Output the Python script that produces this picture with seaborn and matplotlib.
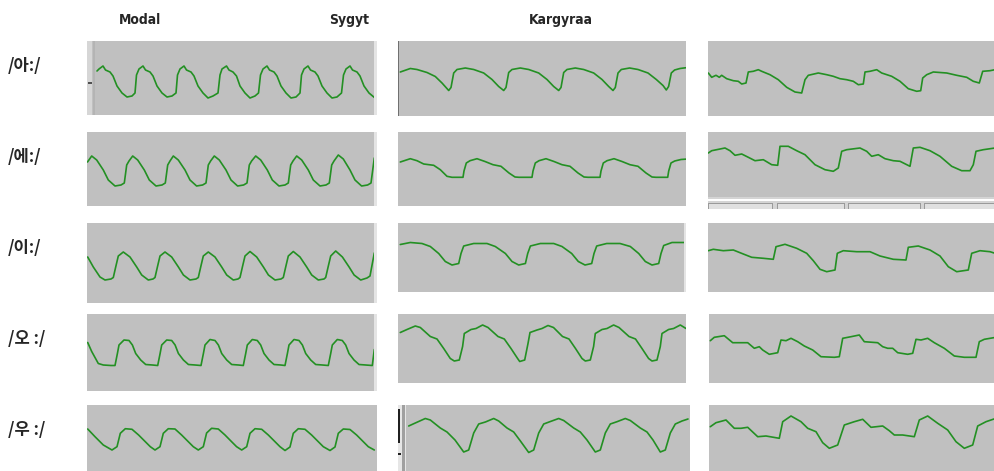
import pandas as pd
import seaborn as sns
from matplotlib import pyplot as plt
from matplotlib.patches import Rectangle

# column / row titles
voice_types = ['Modal', 'Sygyt', 'Kargyraa']
vowel_labels = ['/아:/', '/에:/', '/이:/', '/오 :/', '/우 :/']

# waveforms: (time in px from panel left, amplitude in px above centre)
modal_a = [(10, 7), (12, 9), (16, 12), (18.5, 8), (23, 6), (26, 2), (30, -8), (35, -15), (40, -19), (45, -18), (48, -15),
           (49.5, 3), (52, 9), (56, 12), (58.5, 8), (63, 6), (66, 2), (70, -8), (75, -15), (80, -19), (85, -18), (89, -15),
           (90.5, 3), (93, 9), (97, 12), (99.5, 8), (104, 6), (107, 2), (111, -8), (116, -15), (121, -20), (126, -18), (131, -15),
           (133, 3), (135, 9), (139.5, 12), (142, 8), (146, 6), (149.5, 2), (153, -8), (158, -15), (163, -20), (168, -18), (171.5, -15),
           (173.5, 3), (176, 9), (180, 12), (182.5, 8), (187, 6), (190, 2), (194, -8), (199, -15), (204, -20), (209, -19), (213, -15),
           (214.5, 3), (217, 9), (221, 12), (223.5, 8), (228, 6), (231, 2), (235, -8), (240, -15), (245, -20), (250, -19), (254.5, -15),
           (256.5, 3), (259, 9), (263, 12), (265.5, 8), (270, 6), (273, 2), (277, -8), (282, -15), (288, -20)]
modal_e = [(0.5, 7), (4.7, 13), (9.7, 9), (16.3, -1), (21.3, -11), (28, -17), (34, -16), (37.3, -14), (39.7, 4), (42, 8),
           (45.7, 13), (50.7, 9), (57.3, -1), (62.3, -11), (69, -17), (75, -16), (78.3, -14), (80.7, 4), (83, 8),
           (86.3, 13), (91.3, 9), (98, -1), (103, -11), (109.6, -17), (115.6, -16), (119, -14), (121.3, 4), (123.6, 8),
           (127.3, 13), (132.3, 9), (139, -1), (144, -11), (150.6, -17), (156.6, -16), (160, -14), (162.3, 4), (164.6, 8),
           (168.7, 13), (173.7, 9), (180.3, -1), (185.3, -11), (192, -17), (198, -16), (201.3, -14), (203.7, 4), (206, 8),
           (209.7, 13), (214.7, 9), (221.3, -1), (226.3, -11), (233, -17), (239, -16), (242.3, -14), (244.7, 4), (247, 8),
           (251.3, 14), (256.3, 10), (263, -1), (268, -11), (274.6, -17), (280.6, -16), (284, -14), (287.3, 11)]
modal_i = [(0.7, 6), (6.3, -4), (13, -14), (18, -17), (24, -16),
           (26.3, -14.5), (28.7, -4), (31.3, 7), (36.3, 11), (43, 6), (49.7, -4), (54.7, -12), (61.3, -17), (66, -16),
           (68, -14.5), (70.4, -4), (73, 7), (78, 11), (84.7, 6), (91.4, -4), (96.4, -12), (103, -17), (109, -16),
           (111.3, -14.5), (113.7, -4), (116.3, 7), (121.3, 11), (128, 6), (134.7, -4), (139.7, -12), (146.3, -17), (151, -16),
           (153, -14.5), (155.4, -4), (158, 7), (163, 11.5), (169.7, 6), (176.4, -4), (181.4, -12), (188, -17), (194, -16),
           (196.3, -14.5), (198.7, -4), (201.3, 7), (206.3, 11.5), (213, 6), (219.7, -4), (224.7, -12), (231.3, -17), (237, -16),
           (238.7, -14.5), (241.1, -4), (243.7, 7), (248.7, 12), (255.4, 6), (262.1, -4), (267.1, -12), (273.7, -17), (280, -15),
           (283, -13), (287.3, 10)]
modal_o = [(0.7, 10), (4.7, 1), (11.3, -11), (16.3, -12.5), (24, -13),
           (28, -13), (30.4, -1), (32, 7.5), (37, 12.5), (42, 12), (45.4, 7.5), (48.7, -1), (53.7, -7.5), (58.7, -12), (65.4, -12.5),
           (70.7, -13), (73.1, -1), (74.7, 7.5), (79.7, 12.5), (84.7, 12), (88.1, 7.5), (91.4, -1), (96.4, -7.5), (101.4, -12), (108.1, -12.5),
           (114, -13), (116.4, -1), (118, 7.5), (123, 13), (128, 12), (131.4, 7.5), (134.7, -1), (139.7, -7.5), (144.7, -12), (151.4, -12.5),
           (156.3, -13), (158.7, -1), (160.3, 7.5), (165.3, 13), (170.3, 12), (173.7, 7.5), (177, -1), (182, -7.5), (187, -12), (193.7, -12.5),
           (198, -13), (200.4, -1), (202, 7.5), (207, 13), (212, 12), (215.4, 7.5), (218.7, -1), (223.7, -7.5), (228.7, -12), (235.4, -12.5),
           (241.3, -13), (243.7, -1), (245.3, 7.5), (250.3, 13), (255.3, 12), (258.7, 7.5), (262, -1), (267, -7.5), (272, -12), (278.7, -12.5),
           (285.3, -13), (287.3, 3)]
modal_u = [(0.7, 9), (8, 1.3), (16.3, -7), (25, -12),
           (30, -8.7), (33.3, 4.7), (38.3, 9.3), (45, 8.7), (51.6, 3), (58.3, -3.7), (63.3, -8.7),
           (68, -12), (73, -8.7), (76.3, 4.7), (81.3, 9.3), (88, 9), (94.6, 3), (101.3, -3.7), (106.3, -8.7),
           (111.3, -12), (116.3, -8.7), (119.6, 5), (124.6, 9.7), (131.3, 9), (138, 3), (144.6, -3.7), (149.6, -8.7),
           (154.7, -12), (159.7, -8.7), (163, 4.7), (168, 9.3), (174.7, 8.7), (181.3, 3), (188, -3.7), (193, -8.7),
           (198, -12.5), (203, -9), (206.3, 4.7), (211.3, 9.3), (218, 8.7), (224.6, 3), (231.3, -3.7), (236.3, -8.7),
           (243, -12.5), (248, -9), (251.3, 4.7), (256.3, 9), (263, 8.5), (269.6, 3), (276.3, -3.7), (281.3, -8.7), (287.3, -12)]

sygyt_a = [(2.3, 6.5), (12.3, 10), (19, 9), (29, 6), (37.3, 2), (44, -4.5),
           (50.7, -12), (53, -9), (55.7, 5.5), (59, 9), (67.3, 10.5), (75.7, 9), (85.7, 5.5), (94, -1), (100.7, -8),
           (105.7, -12), (108, -9), (110.7, 6), (114, 9), (122.3, 10.5), (130.7, 9), (140.7, 5.5), (149, -1), (155.7, -8),
           (160.7, -12), (163, -9), (165.7, 6), (169, 9), (177.3, 10.5), (185.7, 9), (195.7, 5.5), (204, -1), (210.7, -8),
           (215, -12), (217.3, -9), (220, 5.5), (223.3, 9), (231.6, 10.5), (240, 9), (250, 5.5), (258.3, -1), (265, -7),
           (268.3, -11.5), (270.6, -8), (273.3, 5.5), (276.6, 8.5), (282, 10), (289.7, 11)]
sygyt_e = [(2.3, 7), (12.3, 10.3), (19, 8.3), (25.7, 5), (35.7, 3.7), (42.3, -0.7), (49, -7.3), (54, -8.3),
           (65, -8.3), (66, -2), (68.3, 6), (72, 8.3), (79, 10.3), (87, 7.5), (95, 4.3), (103, 2.7), (111, -4), (117, -8), (121, -8.3),
           (134, -8.3), (135, -2), (137.3, 6), (141, 8.3), (148, 10.3), (156, 7.5), (164, 4.3), (172, 2.7), (180, -4), (186, -8), (190, -8.3),
           (202, -8.3), (203, -2), (205.3, 6), (209, 8.3), (216, 10.3), (224, 7.5), (232, 4.3), (240, 2.7), (248, -4), (254, -8), (258, -8.3),
           (269.7, -8.3), (270.7, -2), (273, 6), (276.7, 8), (283, 9.5), (289.7, 10)]
sygyt_i = [(2.3, 13), (12.3, 15), (24, 14), (32.3, 11), (40.7, 4), (47.3, -4), (54, -7.5), (60.7, -6), (63, 4), (65.7, 11.5), (75.7, 14), (89, 14),
           (97.3, 11), (107.4, 4), (114, -4), (120.7, -7.5), (127.4, -6), (129.7, 4), (132.4, 11.5), (142.4, 14), (155.7, 14),
           (164, 11), (173.7, 4), (180.3, -4), (187, -7.5), (193.7, -6), (196, 4), (198.7, 11.5), (208.7, 14), (222, 14),
           (232.3, 11), (240.7, 4), (247.3, -4), (254, -7.5), (260.7, -6), (263, 4), (265.7, 12), (274, 15), (288.3, 15)]
sygyt_o = [(2.3, 16), (9, 19), (17.3, 22.5), (22.3, 21), (32.3, 12), (39, 9.5), (45.7, 0), (52.3, -10),
           (56.3, -12.5), (61.3, -11.5), (64.6, 2), (66.3, 15), (73, 19), (78, 20), (84.6, 23.5), (90, 21), (100, 12), (106.3, 9.5), (113, 0), (119.6, -10),
           (121.7, -13), (126.7, -11.5), (130, 5), (132, 16), (139, 18.5), (144, 20), (150, 23), (155.5, 21), (164.5, 12), (171, 9.5), (177.5, 0), (184, -10),
           (187.3, -12.5), (192.3, -11.5), (195.6, 2), (197.3, 15), (204, 19), (209, 20), (215.6, 23.5), (221, 21), (231, 12), (237.5, 9.5), (244, 0), (250.6, -10),
           (254, -12.5), (259, -11.5), (262.3, 2), (264, 15), (270.6, 19), (275.6, 20), (282.3, 23.5), (288, 20)]
sygyt_u = [(10.7, 12), (17.3, 15), (27.3, 19.5), (32.3, 18), (42.3, 10), (49, 6), (57, -2),
           (65.7, -14), (70.7, -12), (75.7, 5), (80.7, 14), (87.4, 16), (95.7, 19.5), (100.7, 17), (109, 10), (115.7, 6), (122.4, -3),
           (130.7, -14.5), (135.7, -12), (140.7, 5), (145.7, 14), (152.4, 16.5), (160.7, 19.5), (165.7, 17.5), (175.7, 10), (182.3, 6), (189, -2),
           (197.3, -14), (202.3, -12), (207.3, 5), (212.3, 14), (219, 16.3), (227.3, 19.5), (232.3, 17.5), (242.3, 10), (249, 6), (255, -2),
           (262.3, -14), (267.3, -12), (272.3, 5), (277.3, 14), (284, 17), (290, 19)]

kargyraa_a = [(0.3, 5.5), (3.7, 1.2), (8, 3.2), (11.3, 1.2), (13.7, 3.2), (18.7, -0.2), (25.3, -2.2), (30.3, -2.8), (33.7, -5.5), (38, -4.5),
              (40.3, 6.5), (45.3, 7.2), (50.3, 8.8), (53.7, 7.2), (62, 3.8), (70.3, -1.2), (78.7, -8.8), (87, -13.5), (93.7, -14.5),
              (97, -1.2), (100.3, 3.2), (110.3, 5.5), (118.7, 3.8), (125.3, 2.2), (132, -0.2), (138.7, -1.2), (145.3, -2.8), (150.3, -6.2), (155.3, -5.5),
              (157, 6.5), (162, 7.2), (168.7, 8.8), (173.7, 5.5), (183.7, 2.2), (192, -2.8), (200.3, -10.2), (208.7, -12.8), (212.7, -12.2),
              (214.7, 0.5), (218.7, 3.8), (225.3, 6.5), (238.7, 5.5), (248.7, 3.2), (258.7, 1.2), (265.3, -2.8), (271.3, -4.5),
              (274.7, 7.2), (282, 7.8), (287, 8.8)]
kargyraa_e = [(0.3, 11.5), (3.7, 13.8), (17, 16.5), (22, 13.8), (27, 9.2), (33.7, 10.5), (40.3, 7.2), (47, 3.8), (55.3, 4.8), (63.7, -0.2), (69.7, -0.8),
              (72, 18.2), (80.3, 18.2), (88.7, 13.8), (97, 9.8), (107, -0.2), (117, -5.2), (125.3, -6.8), (130.3, -3.5),
              (133.7, 13.2), (138.7, 14.8), (152, 16.5), (158.7, 13.2), (163.7, 8.2), (170.3, 9.8), (177, 5.8), (185.3, 3.8), (192, 3.2), (202, -1.8),
              (205.3, 16.5), (212, 17.2), (222, 13.8), (232, 8.2), (243.7, -1.8), (253.7, -6.2), (262, -6.2), (265.3, -0.2),
              (268, 13.2), (275.3, 14.8), (287, 16.5)]
kargyraa_i = [(0.3, 6.8), (5.3, 8.2), (15.3, 6.8), (25.3, 7.5), (35.3, 3.5), (43.7, 0.2), (55.3, -0.8), (65.3, -1.8),
              (68, 10.8), (77, 13.2), (88.7, 9.2), (98.7, 4.2), (105.3, -3.2), (112, -11.8), (118.7, -14.2), (127, -12.5),
              (129.3, 4.2), (135.3, 6.8), (148.7, 5.8), (162, 5.8), (172, 1.5), (185.3, -1.8), (198, -2.5),
              (200.3, 10.2), (210.3, 11.5), (222, 7.5), (232, 1.5), (240.3, -9.2), (248.7, -14.2), (260.3, -12.5),
              (263.7, 4.2), (272, 6.8), (282, 5.8), (287, 4.2)]
kargyraa_o = [(1.3, 7.8), (5.3, 11.2), (15.3, 12.8), (23.7, 5.8), (38.7, 5.8), (45.3, 0.2), (50.3, 1.8), (53.7, -1.5), (60.3, -5.8), (68.7, -4.2),
              (72, 8.5), (77, 7.8), (82, 10.2), (88.7, 6.8), (95.3, 2.5), (103.7, -1.5), (112, -8.2), (125.3, -8.8), (130.3, -8.2),
              (133.7, 10.2), (142, 11.8), (150.3, 13.5), (155.3, 6.8), (168.7, 5.8), (173.7, 1.8), (178.7, 0.2), (183.7, 0.2), (188.7, -4.2), (198.7, -5.8), (203.7, -4.8),
              (207, 9.2), (212, 8.5), (218.7, 10.2), (225.3, 5.8), (235.3, 0.2), (245.3, -7.5), (255.3, -8.8), (267, -8.8),
              (270.3, 6.8), (275.3, 9.2), (287, 11.2)]
kargyraa_u = [(1.3, 11.3), (7, 15.3), (17, 18), (25.3, 9.7), (32, 9.7), (38.7, 10.7), (48.7, 1.3), (57, 2), (70.3, -0.3),
              (73.7, 16.3), (82, 22), (92, 16.3), (98.7, 9.7), (107, 6.3), (113.7, -4.7), (120.3, -10.3), (128.7, -7),
              (135.3, 13), (145.3, 16.3), (153.7, 18.7), (162, 10.7), (173.7, 12), (180.3, 7.3), (185.3, 3), (193.7, 3), (205.3, 1.3),
              (210.3, 18), (218.7, 22), (228.7, 14.7), (238.7, 8), (247, -3.7), (255.3, -10.3), (263.7, -7),
              (268.7, 12), (277, 16.3), (287, 19.7)]

waves = [[modal_a, sygyt_a, kargyraa_a],
         [modal_e, sygyt_e, kargyraa_e],
         [modal_i, sygyt_i, kargyraa_i],
         [modal_o, sygyt_o, kargyraa_o],
         [modal_u, sygyt_u, kargyraa_u]]

# panel boxes in image pixels: (left, top, right, bottom)
boxes = [[(87, 41, 377, 115), (398, 41, 686, 116), (708, 41, 995, 116)],
         [(87, 132, 377, 206), (398, 132, 686, 206), (708, 132, 995, 197)],
         [(87, 223, 377, 303), (398, 223, 686, 292), (708, 223, 995, 292)],
         [(87, 314, 377, 391), (398, 314, 686, 383), (709, 314, 995, 383)],
         [(87, 405, 377, 471), (398, 405, 690, 471), (709, 405, 995, 471)]]

W, H = 995, 471
sns.set_style('white')
plt.rcParams['font.family'] = ['Noto Sans CJK KR', 'DejaVu Sans']

fig = plt.figure(figsize=(W / 100, H / 100), dpi=100)


def fig_rect(l, t, r, b, color, z=5):
  fig.add_artist(Rectangle((l / W, 1 - b / H), (r - l) / W, (b - t) / H,
                           transform=fig.transFigure, color=color, lw=0, zorder=z))


for row in range(5):
  for col in range(3):
    l, t, r, b = boxes[row][col]
    ax = fig.add_axes([l / W, 1 - b / H, (r - l) / W, (b - t) / H])
    ax.set_facecolor('#c0c0c0')
    df = pd.DataFrame(waves[row][col], columns=['t', 'v'])
    sns.lineplot(data=df, x='t', y='v', ax=ax, color='#239023', lw=1.2,
                 estimator=None, sort=False)
    ax.set_xlim(0, r - l)
    ax.set_ylim(-(b - t) / 2, (b - t) / 2)
    ax.set_xticks([])
    ax.set_yticks([])
    ax.set_xlabel('')
    ax.set_ylabel('')
    for s in ax.spines.values():
      s.set_visible(False)

# window bits that show in the screenshots
fig_rect(87, 41, 92, 115, '#d6d6d6')
fig_rect(93, 41, 95, 115, '#b4b4b4')
fig_rect(88, 82, 92, 84, '#505050')
for t, b in [(41, 115), (132, 206), (223, 303), (314, 391)]:
  fig_rect(374, t, 377, b, '#e4e4e4')
fig_rect(398, 41, 399, 116, '#707070')
fig_rect(684, 223, 686, 292, '#e4e4e4')
fig_rect(708, 197, 995, 209, '#d4d4d4')
fig_rect(708, 199, 995, 200.5, '#ffffff')
for l, r in [(708, 773), (777, 845), (848, 921), (924, 995)]:
  fig_rect(l, 203, r, 209, '#9a9a9a')
  fig_rect(l + 1, 204, r - 1, 209, '#e0e0e0')
fig_rect(398, 405, 406, 471, '#e6e6e6')
fig_rect(398, 409, 400, 443, '#202020')
fig_rect(402, 405, 405, 471, '#a0a0a0')
fig_rect(398, 453, 401, 455, '#202020')

# titles
for name, x in zip(voice_types, [140, 349, 561]):
  fig.text(x / W, 1 - 20 / H, name, ha='center', va='center', fontsize=10,
           fontweight='bold', family=['DejaVu Sans'], fontstretch='condensed')
for lab, box in zip(vowel_labels, boxes):
  top = box[0][1]
  fig.text(8 / W, 1 - (top + 25) / H, lab, ha='left', va='center', fontsize=12,
           fontweight='bold')

fig.savefig('out.png', dpi=100)
